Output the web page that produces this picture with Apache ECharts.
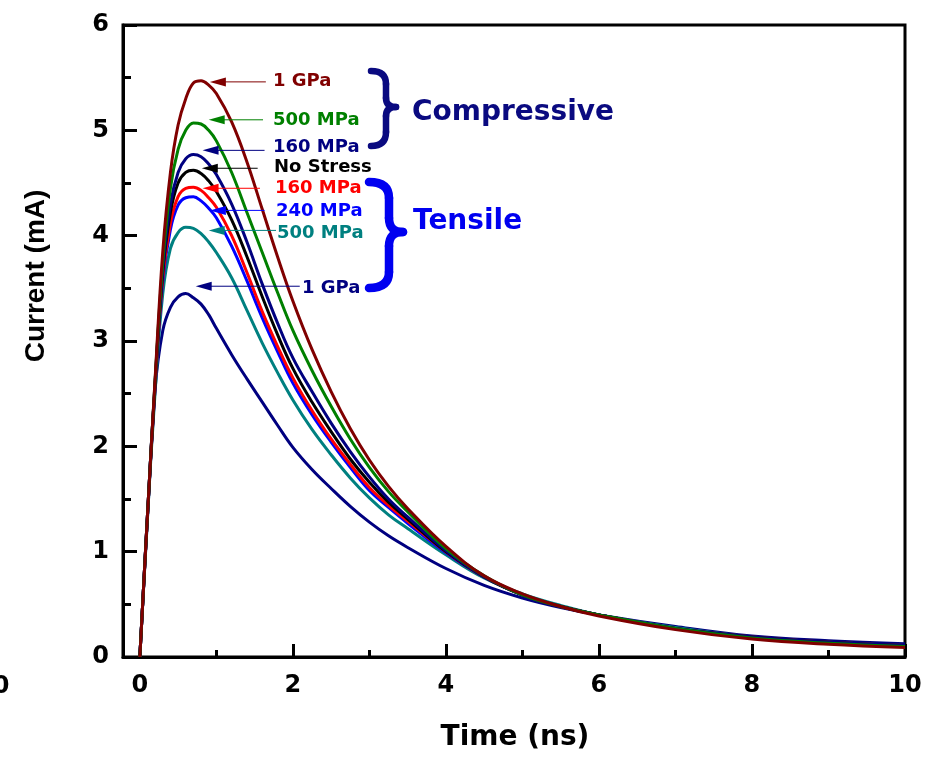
<!DOCTYPE html>
<html><head><meta charset="utf-8">
<script src="https://cdn.jsdelivr.net/npm/echarts@6/dist/echarts.min.js"></script>
<style>html,body{margin:0;padding:0;background:#fff}#c{width:936px;height:761px}</style>
</head><body><div id="c"></div>
<script>
// ---- data ----
const time = [0,0.1,0.2,0.3,0.4,0.5,0.6,0.7,0.8,0.9,1.0,1.2,1.4,1.6,1.8,2.0,2.25,2.5,2.75,3.0,3.25,3.5,4.0,4.5,5.0,5.5,6.0,7.0,8.0,9.0,10.0];
const tens1GPa   = [0,1.32,2.55,3.10,3.32,3.42,3.45,3.41,3.35,3.25,3.12,2.87,2.64,2.42,2.20,1.99,1.78,1.60,1.43,1.28,1.15,1.04,0.84,0.68,0.56,0.47,0.40,0.29,0.20,0.155,0.125];
const tens500MPa = [0,1.33,2.52,3.45,3.88,4.03,4.08,4.07,4.02,3.94,3.84,3.60,3.29,2.98,2.70,2.44,2.16,1.92,1.70,1.51,1.35,1.22,0.97,0.75,0.60,0.49,0.40,0.28,0.19,0.14,0.11];
const tens240MPa = [0,1.35,2.57,3.57,4.06,4.29,4.36,4.37,4.33,4.26,4.17,3.90,3.57,3.22,2.90,2.60,2.30,2.04,1.80,1.58,1.42,1.27,0.99,0.76,0.59,0.48,0.40,0.27,0.19,0.14,0.11];
const tens160MPa = [0,1.35,2.58,3.60,4.12,4.37,4.45,4.46,4.43,4.36,4.27,4.00,3.65,3.28,2.95,2.65,2.34,2.07,1.83,1.61,1.44,1.29,1.00,0.76,0.59,0.48,0.40,0.27,0.19,0.14,0.11];
const noStress   = [0,1.35,2.60,3.65,4.22,4.50,4.60,4.62,4.59,4.52,4.42,4.15,3.80,3.42,3.06,2.74,2.42,2.14,1.88,1.66,1.47,1.31,1.00,0.76,0.59,0.48,0.40,0.27,0.19,0.14,0.11];
const comp160MPa = [0,1.35,2.62,3.68,4.30,4.60,4.73,4.77,4.75,4.68,4.58,4.30,3.94,3.54,3.17,2.84,2.52,2.22,1.95,1.71,1.50,1.33,1.01,0.76,0.59,0.48,0.40,0.27,0.19,0.14,0.11];
const comp500MPa = [0,1.35,2.63,3.75,4.45,4.82,5.00,5.07,5.06,5.00,4.90,4.60,4.22,3.84,3.46,3.10,2.72,2.38,2.07,1.80,1.57,1.38,1.03,0.77,0.59,0.48,0.40,0.27,0.18,0.13,0.10];
const comp1GPa   = [0,1.35,2.65,3.85,4.60,5.05,5.30,5.45,5.47,5.43,5.35,5.08,4.70,4.25,3.80,3.38,2.92,2.52,2.17,1.87,1.62,1.41,1.05,0.77,0.60,0.48,0.39,0.26,0.17,0.12,0.09];

const xMajorTicks = [0,2,4,6,8,10];
const xMinorTicks = [1,3,5,7,9];
const seriesNames = ['Tensile 1 GPa','Tensile 500 MPa','Tensile 240 MPa','Tensile 160 MPa','No Stress','Compressive 160 MPa','Compressive 500 MPa','Compressive 1 GPa'];
const seriesValues = [tens1GPa,tens500MPa,tens240MPa,tens160MPa,noStress,comp160MPa,comp500MPa,comp1GPa];
const labelTexts = ['1 GPa','500 MPa','240 MPa','160 MPa','No Stress','160 MPa','500 MPa','1 GPa'];

// ---- styling / annotation placement ----
const colors = ['#000080','#008080','#0000ff','#ff0000','#000000','#000080','#008000','#800000'];
// arrows in data coordinates: [tail t, tip t, level]
const arrows = [[2.09,0.73,3.52],[1.78,0.90,4.05],[1.63,0.915,4.24],[1.57,0.82,4.45],[1.54,0.81,4.64],[1.63,0.82,4.81],[1.61,0.90,5.10],[1.647,0.915,5.46]];
// label pixel positions [left x, center y]
const labelPos = [[302,288],[277,233],[276,211],[275,188],[274,167],[273,147],[273,120],[273,81]];

const lf = '"DejaVu Sans", "Liberation Sans", Arial, sans-serif';
const series = seriesValues.map((vals, i) => ({
  name: seriesNames[i], type: 'line', xAxisIndex: 0, yAxisIndex: 0,
  data: time.map((t, k) => [t, vals[k]]),
  smooth: 0.4, showSymbol: false, symbol: 'none',
  lineStyle: { color: colors[i], width: 3 }, itemStyle: { color: colors[i] },
  z: 2 + i, animation: false
}));

const chart = echarts.init(document.getElementById('c'), null, { renderer: 'canvas' });
chart.setOption({
  animation: false,
  backgroundColor: '#fff',
  grid: { left: 123, right: 31, top: 25, bottom: 104, show: true, borderColor: '#000', borderWidth: 3, backgroundColor: 'transparent' },
  xAxis: [{
    type: 'value', min: -0.22, max: 10, position: 'bottom',
    axisLine: { show: true, onZero: false, lineStyle: { color: '#000', width: 3 } },
    axisTick: { show: true, inside: true, length: 13, customValues: xMajorTicks, lineStyle: { color: '#000', width: 3 } },
    axisLabel: { show: true, customValues: xMajorTicks, margin: 17, color: '#000', fontSize: 24, fontWeight: 'bold', fontFamily: lf },
    splitLine: { show: false }
  }, {
    type: 'value', min: -0.22, max: 10, position: 'bottom', gridIndex: 0,
    axisLine: { show: false, onZero: false },
    axisTick: { show: true, inside: true, length: 7, customValues: xMinorTicks, lineStyle: { color: '#000', width: 3 } },
    axisLabel: { show: false }, splitLine: { show: false }
  }],
  yAxis: {
    type: 'value', min: 0, max: 6, interval: 1,
    axisLine: { show: true, onZero: false, lineStyle: { color: '#000', width: 3 } },
    axisTick: { show: true, inside: true, length: 14, lineStyle: { color: '#000', width: 3 } },
    minorTick: { show: true, splitNumber: 2, length: 8, lineStyle: { color: '#000', width: 3 } },
    axisLabel: { margin: 14, color: '#000', fontSize: 24, fontWeight: 'bold', fontFamily: lf },
    splitLine: { show: false }, minorSplitLine: { show: false }
  },
  series: series
});

// ---- annotations ----
const els = [];
function brace(segs, color, w) {
  segs.forEach(s => {
    if (s.length === 4) els.push({ type: 'line', shape: { x1: s[0], y1: s[1], x2: s[2], y2: s[3] }, style: { stroke: color, lineWidth: w, lineCap: 'round' }, z: 10 });
    else els.push({ type: 'bezierCurve', shape: { x1: s[0], y1: s[1], cpx1: s[2], cpy1: s[3], x2: s[4], y2: s[5] }, style: { stroke: color, fill: null, lineWidth: w, lineCap: 'round' }, z: 10 });
  });
}
brace([[371,71,386,71,386,84],[386,84,386,98],[386,98,386,107,396,107],[396,107,386,107,386,116],[386,116,386,132],[386,132,386,146,371,146]], '#0a0a80', 6.5);
brace([[369,182,389,182,389,198],[389,198,389,218],[389,218,389,232,403,232],[403,232,389,232,389,246],[389,246,389,272],[389,272,389,288,369,288]], '#0000f0', 8.5);

arrows.forEach((a, i) => {
  const tail = chart.convertToPixel({ seriesIndex: i }, [a[0], a[2]]);
  const tip = chart.convertToPixel({ seriesIndex: i }, [a[1], a[2]]);
  const headLen = 16, halfW = 4.5;
  els.push({ type: 'line', z: 11, shape: { x1: tail[0], y1: tail[1], x2: tip[0] + headLen - 2, y2: tip[1] }, style: { stroke: colors[i], lineWidth: 1 } });
  els.push({ type: 'polygon', z: 11, shape: { points: [[tip[0], tip[1]], [tip[0] + headLen, tip[1] - halfW], [tip[0] + headLen, tip[1] + halfW]] }, style: { fill: colors[i] } });
});

labelTexts.forEach((t, i) => els.push({
  type: 'text', x: labelPos[i][0], y: labelPos[i][1], z: 12,
  style: { text: t, fill: colors[i], font: 'bold 18px ' + lf, textAlign: 'left', textVerticalAlign: 'middle', verticalAlign: 'middle' }
}));
els.push(
  { type: 'text', x: 412, y: 113, z: 12, style: { text: 'Compressive', fill: '#0a0a80', font: 'bold 28px ' + lf, textAlign: 'left', textVerticalAlign: 'middle', verticalAlign: 'middle' } },
  { type: 'text', x: 413, y: 222, z: 12, style: { text: 'Tensile', fill: '#0000f0', font: 'bold 28px ' + lf, textAlign: 'left', textVerticalAlign: 'middle', verticalAlign: 'middle' } },
  { type: 'text', x: 515, y: 738, z: 12, style: { text: 'Time (ns)', fill: '#000', font: 'bold 28px ' + lf, textAlign: 'center', textVerticalAlign: 'middle', verticalAlign: 'middle' } },
  { type: 'text', x: 36, y: 276, rotation: Math.PI / 2, z: 12, style: { text: 'Current (mA)', fill: '#000', font: 'bold 28px "Liberation Sans", Arial, sans-serif', textAlign: 'center', textVerticalAlign: 'middle', verticalAlign: 'middle' } },
  { type: 'text', x: 1, y: 687, z: 12, style: { text: '0', fill: '#000', font: 'bold 24px ' + lf, textAlign: 'center', textVerticalAlign: 'middle', verticalAlign: 'middle' } }
);
chart.setOption({ graphic: { elements: els } });
</script></body></html>
